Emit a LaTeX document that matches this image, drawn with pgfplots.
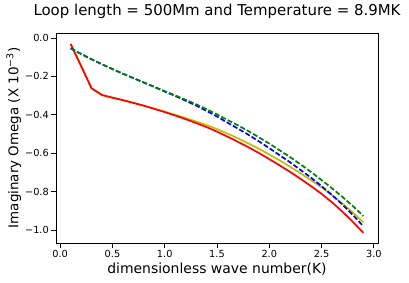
\documentclass[border=0pt]{standalone}
\usepackage{fontspec}
\setmainfont{DejaVu Sans}
\usepackage{pgfplots}
\pgfplotsset{compat=1.18}
\definecolor{mplr}{rgb}{1,0,0}
\definecolor{mply}{rgb}{0.75,0.75,0}
\definecolor{mplb}{rgb}{0,0,1}
\definecolor{mplg}{rgb}{0,0.5,0}
\begin{document}
\begin{tikzpicture}
\begin{axis}[
  scale only axis, width=322bp, height=210bp,
  xmin=-0.04, xmax=3.04, ymin=-1.068, ymax=0.026,
  xtick={0,0.5,1,1.5,2,2.5,3},
  xticklabels={0.0,0.5,1.0,1.5,2.0,2.5,3.0},
  ytick={-1,-0.8,-0.6,-0.4,-0.2,0},
  yticklabels={−1.0,−0.8,−0.6,−0.4,−0.2,0.0},
  tick align=outside, tick pos=left,
  major tick length=5bp,
  tick style={black, line width=0.7pt},
  axis line style={line width=0.8pt},
  ticklabel style={font=\fontsize{9.8}{11}\selectfont},
  yticklabel style={anchor=east, inner sep=0pt, xshift=-2bp},
  xticklabel style={anchor=north, inner sep=0pt, yshift=-2.5bp},
  title={Loop length = 500Mm and Temperature = 8.9MK},
  title style={font=\fontsize{15}{17}\selectfont, at={(axis description cs:0.5,1.0571)}, anchor=base},
  xlabel={dimensionless wave number(K)},
  xlabel style={font=\fontsize{14}{16}\selectfont, at={(axis description cs:0.5,-0.1429)}, anchor=base},
  ylabel={Imaginary Omega (X 10\textsuperscript{−3})},
  ylabel style={font=\fontsize{13.5}{15}\selectfont, at={(axis description cs:-0.1165,0.5)}, anchor=base},
]
\coordinate (sw) at (rel axis cs:0,0);
\addplot[mply, line width=1.7bp] coordinates {
(0.1,-0.031) (0.2,-0.146) (0.3,-0.262) (0.4,-0.297) (0.5,-0.311) (0.6,-0.324) (0.7,-0.338) (0.8,-0.352) (0.9,-0.368) (1.0,-0.384)
(1.1,-0.400) (1.2,-0.417) (1.3,-0.435) (1.4,-0.453) (1.5,-0.475) (1.6,-0.498) (1.7,-0.523) (1.8,-0.549) (1.9,-0.577) (2.0,-0.607)
(2.1,-0.638) (2.2,-0.671) (2.3,-0.705) (2.4,-0.741) (2.5,-0.778) (2.6,-0.819) (2.7,-0.863) (2.8,-0.910) (2.9,-0.960)};
\addplot[mplr, line width=1.7bp] coordinates {
(0.1,-0.031) (0.2,-0.146) (0.3,-0.262) (0.4,-0.297) (0.5,-0.311) (0.6,-0.324) (0.7,-0.338) (0.8,-0.353) (0.9,-0.369) (1.0,-0.386)
(1.1,-0.404) (1.2,-0.423) (1.3,-0.443) (1.4,-0.464) (1.5,-0.488) (1.6,-0.514) (1.7,-0.541) (1.8,-0.569) (1.9,-0.599) (2.0,-0.631)
(2.1,-0.664) (2.2,-0.698) (2.3,-0.734) (2.4,-0.772) (2.5,-0.812) (2.6,-0.856) (2.7,-0.905) (2.8,-0.958) (2.9,-1.015)};
\addplot[mplb, line width=1.7bp, dash pattern=on 5bp off 2.2bp] coordinates {
(0.1,-0.054) (0.2,-0.083) (0.3,-0.111) (0.4,-0.137) (0.5,-0.162) (0.6,-0.186) (0.7,-0.209) (0.8,-0.232) (0.9,-0.255) (1.0,-0.279)
(1.1,-0.302) (1.2,-0.327) (1.3,-0.352) (1.4,-0.380) (1.5,-0.409) (1.6,-0.441) (1.7,-0.472) (1.8,-0.504) (1.9,-0.538) (2.0,-0.574)
(2.1,-0.611) (2.2,-0.648) (2.3,-0.688) (2.4,-0.728) (2.5,-0.772) (2.6,-0.818) (2.7,-0.868) (2.8,-0.922) (2.9,-0.981)};
\addplot[mplg, line width=1.7bp, dash pattern=on 5bp off 2.2bp] coordinates {
(0.1,-0.054) (0.2,-0.083) (0.3,-0.111) (0.4,-0.137) (0.5,-0.162) (0.6,-0.186) (0.7,-0.209) (0.8,-0.232) (0.9,-0.254) (1.0,-0.277)
(1.1,-0.299) (1.2,-0.322) (1.3,-0.345) (1.4,-0.371) (1.5,-0.398) (1.6,-0.427) (1.7,-0.455) (1.8,-0.485) (1.9,-0.517) (2.0,-0.550)
(2.1,-0.585) (2.2,-0.621) (2.3,-0.659) (2.4,-0.698) (2.5,-0.740) (2.6,-0.783) (2.7,-0.828) (2.8,-0.876) (2.9,-0.927)};
\end{axis}
\pgfresetboundingbox
\path (sw) ++(-56bp,-40bp) rectangle ++(409bp,283bp);
\end{tikzpicture}
\end{document}
